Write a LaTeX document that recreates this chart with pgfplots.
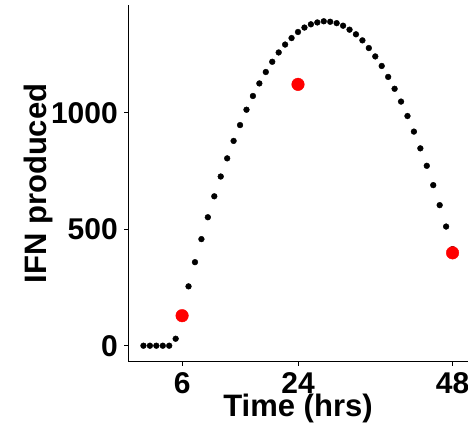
\documentclass[border=0pt]{standalone}
\usepackage{pgfplots}
\pgfplotsset{compat=1.18}
\usepackage{fontspec}
\setmainfont{Liberation Sans}
\begin{document}
\begin{tikzpicture}[x=1pt,y=1pt]
\path[use as bounding box] (0,0) rectangle (468,428);
\begin{axis}[
  at={(128pt,66pt)}, anchor=south west,
  scale only axis, width=340pt, height=357pt,
  xmin=-2.4, xmax=50.4, ymin=-70, ymax=1464,
  axis lines=left,
  axis line style={-, line width=1pt, black},
  xtick={6,24,48}, ytick={0,500,1000},
  tick align=outside, major tick length=4pt,
  every tick/.style={black, line width=1pt},
  /pgf/number format/assume math mode=true,
  /pgf/number format/1000 sep={},
  ticklabel style={font=\fontsize{30}{30}\selectfont\bfseries, inner sep=0pt},
  yticklabel style={xshift=-6pt},
  xticklabel style={yshift=-6pt},
  xlabel={Time (hrs)}, ylabel={IFN produced},
  label style={font=\fontsize{31}{31}\selectfont\bfseries, inner sep=0pt},
  xlabel style={at={(axis description cs:0.5,-0.1532)}, anchor=base},
  ylabel style={at={(axis description cs:-0.2400,0.5)}, anchor=base},
  clip=false,
]
\addplot[only marks, mark=*, mark size=2.9pt, black] coordinates {
(0,0)(1,0)(2,0)(3,0)(4,0)(5,30)(6,140)(7,255)(8,359)(9,458)(10,552)
(11,642)(12,727)(13,805)(14,880)(15,948)(16,1014)(17,1073)(18,1127)
(19,1176)(20,1220)(21,1260)(22,1294)(23,1322)(24,1348)(25,1367)
(26,1381)(27,1389)(28,1394)(29,1392)(30,1386)(31,1375)(32,1358)
(33,1338)(34,1312)(35,1279)(36,1243)(37,1202)(38,1155)(39,1104)
(40,1049)(41,987)(42,920)(43,848)(44,773)(45,690)(46,604)(47,512)(48,415)
};
\addplot[only marks, mark=*, mark size=6.3pt, red, mark options={draw=red, fill=red}] coordinates {
(6,129)(24,1123)(48,399)
};
\end{axis}
\end{tikzpicture}
\end{document}
